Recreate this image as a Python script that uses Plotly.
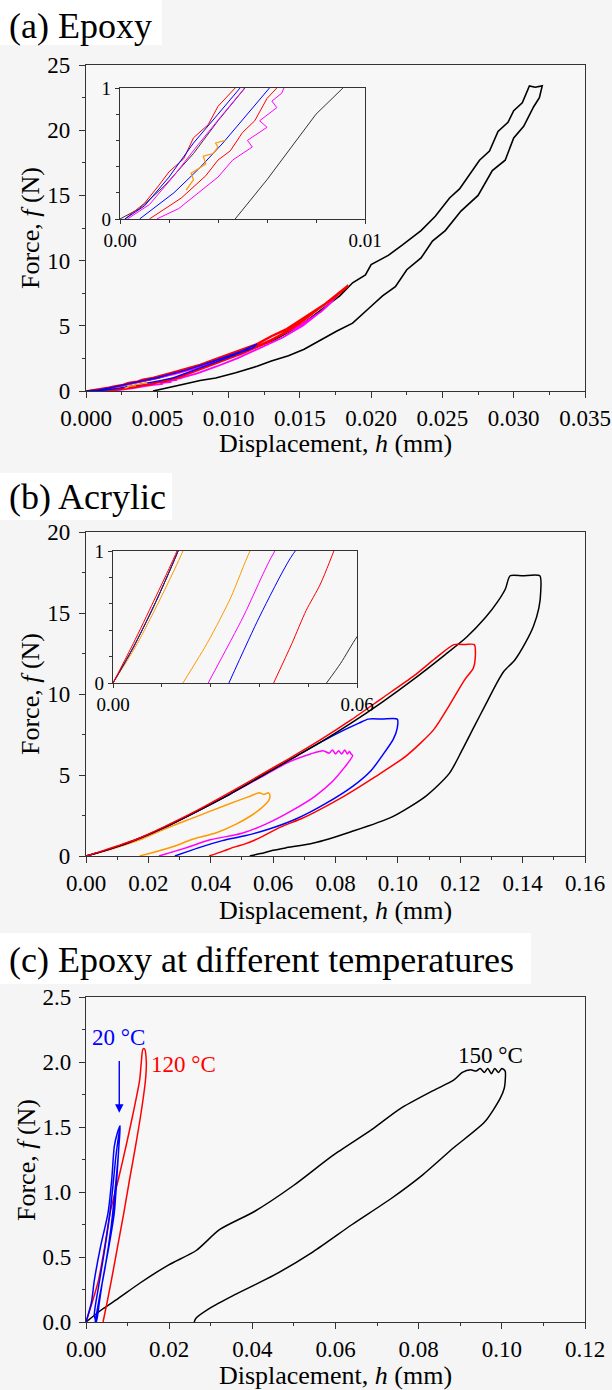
import plotly.graph_objects as go

# ---------------- data: panel (a) Epoxy ----------------
A_BLACK_H = [0, 0.0008, 0.0018, 0.0030, 0.0040, 0.0051, 0.0065, 0.0080, 0.0100, 0.0120, 0.0132, 0.0150, 0.0165,
             0.0178, 0.0187, 0.0196, 0.0200, 0.0212, 0.0222, 0.0235, 0.0245, 0.0255, 0.0262, 0.0270, 0.0276, 0.0283,
             0.0289, 0.0296, 0.0300, 0.0306, 0.0311, 0.0315, 0.0320, 0.0318, 0.0314, 0.0307, 0.0300, 0.0294, 0.0285,
             0.0275, 0.0263, 0.0252, 0.0243, 0.0235, 0.0225, 0.0217, 0.0208, 0.0200, 0.0187, 0.0176, 0.0165, 0.0153,
             0.0142, 0.0130, 0.0120, 0.0105, 0.0091, 0.0080, 0.0070, 0.0060, 0.0047]
A_BLACK_F = [0, 0.08, 0.25, 0.5, 0.75, 1.0, 1.45, 1.95, 2.6, 3.4, 3.9, 5.0, 6.2,
             7.3, 8.3, 8.9, 9.7, 10.4, 11.2, 12.3, 13.4, 14.8, 15.5, 16.8, 17.7, 18.4,
             19.9, 20.6, 21.5, 22.1, 23.4, 23.3, 23.4, 22.5, 21.8, 20.3, 19.4, 17.7, 16.9,
             15.0, 13.8, 12.3, 11.5, 10.2, 9.3, 8.0, 7.3, 6.5, 5.2, 4.6, 3.9, 3.2,
             2.7, 2.3, 1.9, 1.4, 1.0, 0.8, 0.55, 0.3, 0]

A_RED_H = [0.0002, 0.0010, 0.0016, 0.0020, 0.0026, 0.0030, 0.0036, 0.0040, 0.0047, 0.0060, 0.0070, 0.0080, 0.0090,
           0.0100, 0.0110, 0.0120, 0.0130, 0.0140, 0.0150, 0.0160, 0.0168, 0.0175, 0.0181, 0.0184, 0.0180, 0.0172,
           0.0163, 0.0150, 0.0140, 0.0130, 0.0120, 0.0110, 0.0100, 0.0090, 0.0080, 0.0070, 0.0064, 0.0060, 0.0055,
           0.0050, 0.0045, 0.0040, 0.0035, 0.0025, 0.0012]
A_RED_F = [0, 0.12, 0.26, 0.36, 0.46, 0.62, 0.72, 0.86, 1.0, 1.38, 1.7, 2.0, 2.4,
           2.8, 3.2, 3.6, 4.2, 4.7, 5.4, 6.1, 6.7, 7.3, 7.8, 8.1, 7.7, 7.0,
           6.3, 5.2, 4.5, 3.9, 3.4, 2.9, 2.5, 2.1, 1.7, 1.3, 1.0, 0.92, 0.75,
           0.66, 0.52, 0.45, 0.33, 0.16, 0]

A_BLUE_H = [0.0002, 0.0010, 0.0020, 0.0030, 0.0040, 0.0049, 0.0060, 0.0070, 0.0080, 0.0090, 0.0100, 0.0110, 0.0120,
            0.0117, 0.0108, 0.0098, 0.0088, 0.0078, 0.0068, 0.0061, 0.0052, 0.0042, 0.0032, 0.0022, 0.0008]
A_BLUE_F = [0, 0.1, 0.32, 0.58, 0.8, 1.0, 1.3, 1.6, 1.95, 2.3, 2.7, 3.1, 3.6,
            3.3, 2.9, 2.5, 2.1, 1.7, 1.3, 1.0, 0.8, 0.58, 0.38, 0.2, 0]

A_MAG_H = [0.0003, 0.0012, 0.0022, 0.0032, 0.0042, 0.0050, 0.0062, 0.0075, 0.0090, 0.0105, 0.0120, 0.0135, 0.0150,
           0.0165, 0.0172, 0.0178, 0.0176, 0.0166, 0.0152, 0.0138, 0.0122, 0.0106, 0.0092, 0.0078, 0.0068, 0.0066,
           0.0062, 0.0064, 0.0057, 0.0060, 0.0052, 0.0054, 0.0046, 0.0040, 0.0032, 0.0024, 0.0015]
A_MAG_F = [0, 0.11, 0.33, 0.57, 0.8, 0.98, 1.3, 1.7, 2.2, 2.8, 3.4, 4.2, 5.0,
           6.1, 6.8, 7.6, 7.3, 6.2, 5.0, 4.1, 3.3, 2.5, 1.9, 1.35, 1.05, 0.96,
           0.9, 0.85, 0.75, 0.7, 0.6, 0.55, 0.45, 0.32, 0.2, 0.08, 0]

A_ORA_H = [0.0027, 0.0030, 0.0029, 0.0033, 0.0035, 0.0034, 0.0038, 0.0040, 0.0039, 0.0043]
A_ORA_F = [0.22, 0.30, 0.35, 0.40, 0.42, 0.48, 0.50, 0.55, 0.58, 0.60]

# ---------------- data: panel (b) Acrylic ----------------
B_BLACK_H = [0, 0.005, 0.010, 0.016, 0.025, 0.035, 0.045, 0.055, 0.065, 0.075, 0.085, 0.095, 0.105, 0.115, 0.122,
             0.128, 0.132, 0.1345, 0.136, 0.140, 0.1455, 0.1458, 0.1452, 0.1435, 0.141, 0.1375, 0.134, 0.1315, 0.128,
             0.1245, 0.1205, 0.1165, 0.109, 0.098, 0.085, 0.073, 0.064, 0.060, 0.056, 0.0525]
B_BLACK_F = [0, 0.27, 0.58, 1.0, 1.75, 2.7, 3.7, 4.8, 5.9, 7.0, 8.2, 9.5, 10.9, 12.4, 13.5,
             14.7, 15.7, 16.5, 17.3, 17.3, 17.3, 16.3, 15.3, 14.2, 13.2, 12.1, 11.4, 10.6, 9.3,
             8.0, 6.5, 5.1, 3.7, 2.4, 1.5, 0.8, 0.5, 0.35, 0.15, 0]

B_RED_H = [0, 0.005, 0.010, 0.016, 0.025, 0.035, 0.045, 0.055, 0.065, 0.075, 0.085, 0.095, 0.105, 0.112, 0.118,
           0.1215, 0.1245, 0.1248, 0.1242, 0.1215, 0.1165, 0.1115, 0.1028, 0.0928, 0.0828, 0.0728, 0.069, 0.062,
           0.0555, 0.051, 0.0475, 0.044, 0.0395]
B_RED_F = [0, 0.3, 0.62, 1.02, 1.8, 2.75, 3.8, 4.9, 6.0, 7.15, 8.4, 9.75, 11.1, 12.2, 13.05,
           13.05, 13.05, 12.2, 11.6, 10.9, 9.3, 7.8, 6.2, 4.9, 3.7, 2.65, 2.3, 1.75,
           1.1, 0.75, 0.55, 0.3, 0]

B_BLUE_H = [0, 0.005, 0.010, 0.016, 0.025, 0.035, 0.045, 0.055, 0.065, 0.075, 0.083, 0.0875, 0.0905, 0.095, 0.0998,
            0.0998, 0.0985, 0.095, 0.0915, 0.0855, 0.0765, 0.0675, 0.0585, 0.051, 0.0437, 0.036, 0.0285]
B_BLUE_F = [0, 0.27, 0.58, 1.0, 1.75, 2.7, 3.7, 4.8, 5.9, 7.0, 7.8, 8.2, 8.45, 8.45, 8.45,
            7.9, 7.2, 6.2, 5.3, 4.3, 3.2, 2.3, 1.65, 1.25, 0.95, 0.5, 0]

B_MAG_H = [0, 0.005, 0.010, 0.016, 0.025, 0.035, 0.045, 0.055, 0.065, 0.072, 0.076, 0.078, 0.079, 0.080, 0.081,
           0.082, 0.083, 0.0838, 0.0845, 0.085, 0.0855, 0.083, 0.079, 0.0735, 0.066, 0.058, 0.050, 0.0398, 0.032,
           0.0234]
B_MAG_F = [0, 0.27, 0.58, 1.0, 1.75, 2.7, 3.7, 4.75, 5.8, 6.3, 6.5, 6.35, 6.55, 6.3, 6.5,
           6.3, 6.55, 6.3, 6.45, 6.3, 6.2, 5.5, 4.6, 3.7, 2.8, 2.0, 1.4, 1.0, 0.5,
           0]

B_ORA_H = [0, 0.006, 0.0172, 0.025, 0.035, 0.045, 0.052, 0.0555, 0.057, 0.0585, 0.059, 0.0585, 0.0565, 0.053,
           0.048, 0.042, 0.0337, 0.029, 0.0235, 0.0172]
B_ORA_F = [0, 0.3, 1.0, 1.65, 2.4, 3.15, 3.65, 3.9, 3.8, 3.9, 3.7, 3.4, 3.0, 2.5,
           1.95, 1.45, 1.0, 0.65, 0.32, 0]

# ---------------- data: panel (c) Epoxy at different temperatures ----------------
C_BLACK_H = [0, 0.0040, 0.0077, 0.0130, 0.0199, 0.0265, 0.0321, 0.0405, 0.0499, 0.0593, 0.0687, 0.0755, 0.0835,
             0.0884, 0.0905, 0.0925, 0.0938, 0.0948, 0.0958, 0.0966, 0.0975, 0.0983, 0.0992, 0.1000, 0.1008, 0.1008,
             0.1006, 0.0996, 0.0959, 0.0884, 0.0809, 0.0734, 0.0640, 0.0546, 0.0452, 0.0358, 0.0300, 0.0265, 0.0260]
C_BLACK_F = [0, 0.10, 0.18, 0.30, 0.44, 0.55, 0.71, 0.85, 1.05, 1.28, 1.48, 1.64, 1.78,
             1.86, 1.92, 1.94, 1.93, 1.95, 1.92, 1.95, 1.91, 1.95, 1.92, 1.95, 1.93, 1.85,
             1.80, 1.72, 1.54, 1.34, 1.13, 0.95, 0.75, 0.54, 0.36, 0.21, 0.11, 0.03, 0]

C_RED_H = [0, 0.0012, 0.0030, 0.0045, 0.0058, 0.0078, 0.0096, 0.0113, 0.0129, 0.0133, 0.0137, 0.0141, 0.0145,
           0.0143, 0.0132, 0.0119, 0.0105, 0.0091, 0.0076, 0.0061, 0.0050, 0.0041]
C_RED_F = [0, 0.12, 0.32, 0.58, 0.84, 1.10, 1.35, 1.60, 1.86, 2.00, 2.10, 2.10, 2.00,
           1.86, 1.60, 1.35, 1.10, 0.84, 0.58, 0.32, 0.14, 0]

C_BLUE_H = [0, 0.0013, 0.0020, 0.0035, 0.0053, 0.0062, 0.0068, 0.0075, 0.0082, 0.0079, 0.0074, 0.0068, 0.0055,
            0.0040, 0.0032, 0.0025, 0.0020, 0.0029, 0.0042, 0.0056, 0.0064, 0.0071, 0.0077, 0.0081, 0.0078, 0.0071,
            0.0060, 0.0046, 0.0033, 0.0022]
C_BLUE_F = [0, 0.15, 0.32, 0.58, 0.84, 1.10, 1.35, 1.45, 1.51, 1.35, 1.10, 0.84, 0.58,
            0.32, 0.15, 0, 0.05, 0.25, 0.50, 0.80, 1.02, 1.25, 1.40, 1.48, 1.30, 1.05,
            0.72, 0.42, 0.20, 0]

# tick labels
A_XTICKS = [0, 0.005, 0.010, 0.015, 0.020, 0.025, 0.030, 0.035]
A_XLABELS = ["0.000", "0.005", "0.010", "0.015", "0.020", "0.025", "0.030", "0.035"]
A_YTICKS = [0, 5, 10, 15, 20, 25]
B_XTICKS = [0, 0.02, 0.04, 0.06, 0.08, 0.10, 0.12, 0.14, 0.16]
B_XLABELS = ["0.00", "0.02", "0.04", "0.06", "0.08", "0.10", "0.12", "0.14", "0.16"]
B_YTICKS = [0, 5, 10, 15, 20]
C_XTICKS = [0, 0.02, 0.04, 0.06, 0.08, 0.10, 0.12]
C_XLABELS = ["0.00", "0.02", "0.04", "0.06", "0.08", "0.10", "0.12"]
C_YTICKS = [0, 0.5, 1.0, 1.5, 2.0, 2.5]
C_YLABELS = ["0.0", "0.5", "1.0", "1.5", "2.0", "2.5"]
INA_XTICKS, INA_XLABELS = [0, 0.01], ["0.00", "0.01"]
INB_XTICKS, INB_XLABELS = [0, 0.06], ["0.00", "0.06"]
IN_YTICKS, IN_YLABELS = [0, 1], ["0", "1"]

# ---------------- layout helpers ----------------
W, H = 612, 1390
L, R, T, B = 86, 27, 65, 68
PW, PH = W - L - R, H - T - B
FONT = "Liberation Serif"


def px(X):
    return (X - L) / PW


def py(Y):
    return (H - B - Y) / PH


def axis(domain, rng, tickvals, ticktext=None, minor=None, size=23, anchor=None, ticklen=6, title=None,
         standoff=None, labelstandoff=None):
    d = dict(domain=domain, range=rng, showline=True, linecolor="#333", linewidth=1.4, mirror=True,
             ticks="outside", ticklen=ticklen, tickwidth=1.2, tickcolor="#333", showgrid=False, zeroline=False,
             tickmode="array", tickvals=tickvals, fixedrange=True, automargin=False,
             tickfont=dict(family=FONT, size=size, color="black"))
    if ticktext is not None:
        d["ticktext"] = ticktext
    if minor is not None:
        d["minor"] = dict(tickmode="array", tickvals=minor, ticks="outside", ticklen=3, tickwidth=1.0,
                          tickcolor="#333", showgrid=False)
    if anchor:
        d["anchor"] = anchor
    if title:
        d["title"] = dict(text=title, standoff=standoff, font=dict(family=FONT, size=26, color="black"))
    if labelstandoff is not None:
        d["ticklabelstandoff"] = labelstandoff
    return d


fig = go.Figure()


def add(h, f, color, width, ax, smooth=False):
    line = dict(color=color, width=width)
    if smooth:
        line.update(shape="spline", smoothing=0.7)
    fig.add_trace(go.Scatter(x=h, y=f, mode="lines", line=line,
                             xaxis="x" + ax, yaxis="y" + ax, showlegend=False, hoverinfo="skip"))


RED, BLUE, MAG, ORA, BLK = "#ff0000", "#0000ff", "#ff00ff", "#ff9900", "#000000"

# panel a main
add(A_BLACK_H, A_BLACK_F, BLK, 1.6, "")
add(A_MAG_H, A_MAG_F, MAG, 1.8, "")
add(A_RED_H, A_RED_F, RED, 2.4, "")
add(A_BLUE_H, A_BLUE_F, BLUE, 1.4, "")
add(A_ORA_H, A_ORA_F, ORA, 1.4, "")
# panel a inset
add(A_BLACK_H, A_BLACK_F, "#333333", 1.0, "2")
add(A_MAG_H, A_MAG_F, MAG, 1.0, "2")
add(A_RED_H, A_RED_F, RED, 1.0, "2")
add(A_BLUE_H, A_BLUE_F, BLUE, 1.0, "2")
add(A_ORA_H, A_ORA_F, ORA, 1.2, "2")
# panel b main
add(B_ORA_H, B_ORA_F, ORA, 1.5, "3", True)
add(B_MAG_H, B_MAG_F, MAG, 1.5, "3", True)
add(B_BLUE_H, B_BLUE_F, BLUE, 1.5, "3", True)
add(B_BLACK_H, B_BLACK_F, BLK, 1.5, "3", True)
add(B_RED_H, B_RED_F, RED, 1.5, "3", True)
# panel b inset
add(B_ORA_H, B_ORA_F, ORA, 1.0, "4", True)
add(B_MAG_H, B_MAG_F, MAG, 1.0, "4", True)
add(B_BLUE_H, B_BLUE_F, BLUE, 1.0, "4", True)
add(B_BLACK_H, B_BLACK_F, "#333333", 1.0, "4", True)
add(B_RED_H, B_RED_F, RED, 1.0, "4", True)
# panel c
add(C_BLACK_H, C_BLACK_F, BLK, 1.5, "5", True)
add(C_RED_H, C_RED_F, RED, 1.5, "5", True)
add(C_BLUE_H, C_BLUE_F, BLUE, 1.5, "5", True)

dom_x_main = [0, 1]
XT = "Displacement, <i>h</i> (mm)"
layout = dict(
    width=W, height=H, margin=dict(l=L, r=R, t=T, b=B, pad=0, autoexpand=False),
    paper_bgcolor="#f5f5f5", plot_bgcolor="#f7f7f7",
    font=dict(family=FONT, color="black"),
    xaxis=axis(dom_x_main, [0, 0.035], A_XTICKS, A_XLABELS,
               minor=[0.0025, 0.0075, 0.0125, 0.0175, 0.0225, 0.0275, 0.0325], anchor="y"),
    yaxis=axis([py(391), py(65)], [0, 25], A_YTICKS, minor=[2.5, 7.5, 12.5, 17.5, 22.5], anchor="x",
               labelstandoff=4),
    xaxis2=axis([px(120), px(365)], [0, 0.01], INA_XTICKS, INA_XLABELS,
                minor=[0.002, 0.004, 0.006, 0.008], size=19, anchor="y2", ticklen=4),
    yaxis2=axis([py(219), py(88)], [0, 1], IN_YTICKS, IN_YLABELS,
                minor=[0.2, 0.4, 0.6, 0.8], size=19, anchor="x2", ticklen=4),
    xaxis3=axis(dom_x_main, [0, 0.16], B_XTICKS, B_XLABELS,
                minor=[0.01, 0.03, 0.05, 0.07, 0.09, 0.11, 0.13, 0.15], anchor="y3"),
    yaxis3=axis([py(856), py(532)], [0, 20], B_YTICKS, minor=[2.5, 7.5, 12.5, 17.5], anchor="x3",
                labelstandoff=4),
    xaxis4=axis([px(113), px(357)], [0, 0.06], INB_XTICKS, INB_XLABELS,
                minor=[0.012, 0.024, 0.036, 0.048], size=19, anchor="y4", ticklen=4),
    yaxis4=axis([py(683), py(551)], [0, 1], IN_YTICKS, IN_YLABELS,
                minor=[0.2, 0.4, 0.6, 0.8], size=19, anchor="x4", ticklen=4),
    xaxis5=axis(dom_x_main, [0, 0.12], C_XTICKS, C_XLABELS,
                minor=[0.01, 0.03, 0.05, 0.07, 0.09, 0.11], anchor="y5", title=XT, standoff=4),
    yaxis5=axis([py(1322), py(997)], [0, 2.5], C_YTICKS, C_YLABELS,
                minor=[0.25, 0.75, 1.25, 1.75, 2.25], anchor="x5", labelstandoff=3),
)

shapes = []
for (x0, y0, x1, y1) in [(0, 0, 162, 45), (0, 473, 172, 520), (0, 933, 531, 984)]:
    shapes.append(dict(type="rect", xref="paper", yref="paper", x0=px(x0), x1=px(x1), y0=py(y1), y1=py(y0),
                       fillcolor="white", line=dict(width=0), layer="below"))
layout["shapes"] = shapes

ann = []
for text, Y in [("(a) Epoxy", 26), ("(b) Acrylic", 497), ("(c) Epoxy at different temperatures", 960)]:
    ann.append(dict(text=text, xref="paper", yref="paper", x=px(7), y=py(Y), xanchor="left", yanchor="middle",
                    showarrow=False, font=dict(family=FONT, size=36, color="black")))
for Y in [443, 910]:
    ann.append(dict(text=XT, xref="paper", yref="paper", x=0.5, y=py(Y),
                    xanchor="center", yanchor="middle", showarrow=False,
                    font=dict(family=FONT, size=26, color="black")))
for X, Y in [(30, 228), (30, 694), (26, 1160)]:
    ann.append(dict(text="Force, <i>f</i> (N)", xref="paper", yref="paper", x=px(X), y=py(Y), textangle=-90,
                    xanchor="center", yanchor="middle", showarrow=False,
                    font=dict(family=FONT, size=26, color="black")))
ann.append(dict(text="20 °C", xref="x5", yref="y5", x=0.0079, y=2.19, showarrow=False,
                font=dict(family=FONT, size=23, color=BLUE)))
ann.append(dict(text="120 °C", xref="x5", yref="y5", x=0.0235, y=1.98, showarrow=False,
                font=dict(family=FONT, size=23, color=RED)))
ann.append(dict(text="150 °C", xref="x5", yref="y5", x=0.0972, y=2.05, showarrow=False,
                font=dict(family=FONT, size=23, color=BLK)))
ann.append(dict(text="", xref="x5", yref="y5", axref="x5", ayref="y5", x=0.008, y=1.61, ax=0.008, ay=2.02,
                showarrow=True, arrowhead=2, arrowsize=1.2, arrowwidth=1.4, arrowcolor=BLUE))
layout["annotations"] = ann

fig.update_layout(**layout)
fig.write_html("out.html")
